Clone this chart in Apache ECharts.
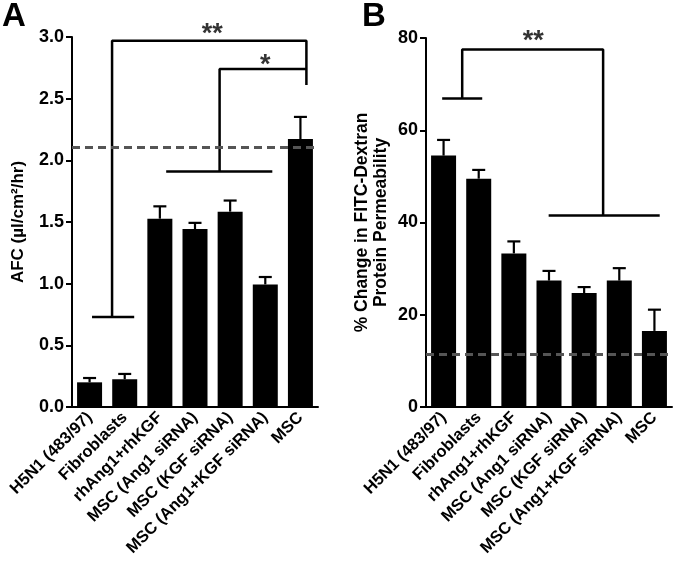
<!DOCTYPE html>
<html><head><meta charset="utf-8">
<script src="https://cdn.jsdelivr.net/npm/echarts@6/dist/echarts.min.js"></script>
<style>html,body{margin:0;padding:0;background:#fff}#c{width:677px;height:572px}</style>
</head><body><div id="c"></div>
<script>
var categories = ['H5N1 (483/97)','Fibroblasts','rhAng1+rhKGF','MSC (Ang1 siRNA)','MSC (KGF siRNA)','MSC (Ang1+KGF siRNA)','MSC'];
var afcValues = [0.20, 0.225, 1.527, 1.443, 1.584, 0.994, 2.172];
var afcErrors = [0.035, 0.043, 0.10, 0.05, 0.09, 0.06, 0.18];
var afcBaseline = 2.11;
var afcTicks = {min: 0, max: 3, interval: 0.5};
var permValues = [54.5, 49.5, 33.3, 27.4, 24.7, 27.4, 16.5];
var permErrors = [3.4, 1.9, 2.6, 2.1, 1.3, 2.7, 4.6];
var permBaseline = 11.5;
var permTicks = {min: 0, max: 80, interval: 20};
// significance brackets (category index, value)
var afcBrackets = [
  [[0.07,0.73],[1.27,0.73]],
  [[0.64,0.73],[0.64,2.97],[6.17,2.97],[6.17,2.61]],
  [[2.18,1.91],[5.2,1.91]],
  [[3.7,1.91],[3.7,2.74],[6.17,2.74]]
];
var afcStars = [[3.49,3.02,'**'],[5.0,2.77,'*']];
var permBrackets = [
  [[-0.04,66.9],[1.10,66.9]],
  [[0.53,66.9],[0.53,77.5],[4.54,77.5],[4.54,41.5]],
  [[2.99,41.5],[6.15,41.5]]
];
var permStars = [[2.55,79.2,'**']];

var FONT = "'Liberation Sans', Arial, Helvetica, sans-serif";
var chart = echarts.init(document.getElementById('c'));

function errSeries(vals, errs, xi, yi) {
  return {
    type: 'custom', xAxisIndex: xi, yAxisIndex: yi, z: 3,
    data: vals.map(function (v, i) { return [i, v, v + errs[i]]; }),
    renderItem: function (params, api) {
      var p0 = api.coord([api.value(0), api.value(1)]);
      var p1 = api.coord([api.value(0), api.value(2)]);
      var hw = 6.5;
      return {type: 'group', children: [
        {type: 'line', shape: {x1: p0[0], y1: p0[1], x2: p1[0], y2: p1[1]}, style: {stroke: '#000', lineWidth: 2.2}},
        {type: 'line', shape: {x1: p1[0]-hw, y1: p1[1], x2: p1[0]+hw, y2: p1[1]}, style: {stroke: '#000', lineWidth: 2.2}}
      ]};
    }
  };
}
function bracketSeries(list, xi, yi) {
  return list.map(function (pts) {
    return {type: 'line', xAxisIndex: xi, yAxisIndex: yi, data: pts, symbol: 'none', silent: true,
      lineStyle: {color: '#000', width: 2.5}, clip: false, z: 4, animation: false};
  });
}
function starSeries(list, xi, yi) {
  return {type: 'scatter', xAxisIndex: xi, yAxisIndex: yi, symbolSize: 1, clip: false, silent: true,
    itemStyle: {color: 'rgba(0,0,0,0)'},
    data: list.map(function (s) { return {value: [s[0], s[1]], name: s[2]}; }),
    label: {show: true, position: 'inside', formatter: '{b}', color: '#000', fontSize: 27, fontWeight: 'bold', fontFamily: FONT}};
}
function catAxis(gi) {
  return {type: 'category', gridIndex: gi, data: categories,
    axisLine: {onZero: false, lineStyle: {color: '#000', width: 2}},
    axisTick: {alignWithLabel: true, length: 6, lineStyle: {color: '#000', width: 2}},
    axisLabel: {rotate: 45, interval: 0, margin: 8, color: '#000', fontSize: 16.5, fontWeight: 'bold', fontFamily: FONT}};
}
function hiddenX(gi) {
  return {type: 'value', gridIndex: gi, min: -0.5, max: 6.5, show: false};
}
function valAxis(gi, t, fmt, name, gap, nameSize) {
  return {type: 'value', gridIndex: gi, min: t.min, max: t.max, interval: t.interval,
    name: name, nameLocation: 'middle', nameGap: gap,
    nameTextStyle: {color: '#000', fontSize: nameSize, fontWeight: 'bold', fontFamily: FONT, lineHeight: 19},
    axisLine: {show: true, onZero: false, lineStyle: {color: '#000', width: 2}},
    axisTick: {show: true, length: 6, lineStyle: {color: '#000', width: 2}},
    splitLine: {show: false},
    axisLabel: {formatter: fmt, margin: 8, color: '#000', fontSize: 18, fontWeight: 'bold', fontFamily: FONT}};
}
function baseLine(v) {
  return {symbol: 'none', silent: true, label: {show: false},
    lineStyle: {color: '#555', type: [8, 5], width: 3}, data: [{yAxis: v}]};
}

var series = [
  {type: 'bar', xAxisIndex: 0, yAxisIndex: 0, data: afcValues, barWidth: 25, itemStyle: {color: '#000'}, z: 2,
    markLine: baseLine(afcBaseline)},
  errSeries(afcValues, afcErrors, 0, 0),
  {type: 'bar', xAxisIndex: 1, yAxisIndex: 1, data: permValues, barWidth: 25, itemStyle: {color: '#000'}, z: 2,
    markLine: baseLine(permBaseline)},
  errSeries(permValues, permErrors, 1, 1),
  starSeries(afcStars, 2, 0),
  starSeries(permStars, 3, 1)
].concat(bracketSeries(afcBrackets, 2, 0)).concat(bracketSeries(permBrackets, 3, 1));

chart.setOption({
  animation: false,
  textStyle: {fontFamily: FONT},
  grid: [
    {left: 72, right: 359, top: 37, bottom: 165, containLabel: false},
    {left: 426, right: 5, top: 38, bottom: 165, containLabel: false}
  ],
  xAxis: [catAxis(0), catAxis(1), hiddenX(0), hiddenX(1)],
  yAxis: [
    valAxis(0, afcTicks, function (v) { return v.toFixed(1); }, 'AFC (\u00b5l/cm\u00b2/hr)', 44, 17),
    valAxis(1, permTicks, function (v) { return String(v); }, '% Change in FITC-Dextran\nProtein Permeability', 35, 17.5)
  ],
  graphic: [
    {type: 'text', left: 2, top: 0, style: {text: 'A', font: 'bold 33px ' + FONT, fill: '#000'}},
    {type: 'text', left: 362, top: 0, style: {text: 'B', font: 'bold 33px ' + FONT, fill: '#000'}}
  ],
  series: series
});
</script></body></html>
